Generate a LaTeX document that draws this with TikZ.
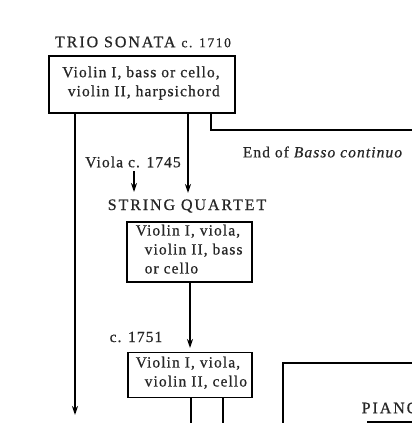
\documentclass[tikz,border=0pt]{standalone}
\usepackage{fontspec}
\setmainfont{Liberation Serif}
\newfontfamily\boxfont[LetterSpace=7,FakeBold=0.6]{Liberation Serif}
\newfontfamily\capfont[LetterSpace=12,FakeBold=0.6]{Liberation Serif}
\usetikzlibrary{arrows.meta}
\begin{document}
\begin{tikzpicture}[x=1pt,y=-1pt,
  line width=1.4pt,
  boxs/.style={draw, line width=1.3pt, inner sep=0pt, outer sep=0pt},
  txt/.style={inner sep=0pt, font=\boxfont\fontsize{15.5}{19}\selectfont, text=black!85},
  ttl/.style={inner sep=0pt, font=\capfont\fontsize{16}{18}\selectfont, text=black!85},
  arr/.style={-{Stealth[length=9pt,width=6pt]}, line width=1.5pt},
  ln/.style={line width=1.5pt}]
\useasboundingbox[fill=white] (0,0) rectangle (412,423);
% Trio sonata
\node[ttl] (ttrio) at (143,42) {TRIO SONATA {\fontsize{13.5}{14}\selectfont c. 1710}};
\node[boxs, minimum width=186pt, minimum height=57pt] (trio) at (142,84.5) {};
\node[txt, align=right] (trioT) at (141,83) {Violin I, bass or cello,\\violin II, harpsichord};
% left long line
\coordinate (l1) at (75,113);
\coordinate (l2) at (75,415);
\draw[arr] (l1) -- (l2);
% end of basso continuo
\coordinate (b1) at (211,113);
\coordinate (b2) at (211,130);
\coordinate (b3) at (413,130);
\draw[ln] (b1) -- (b2) -- (b3);
\node[txt] (ebc) at (323,152) {End of \textit{Basso continuo}};
% viola
\node[txt] (viola) at (133,162) {Viola c. 1745};
\coordinate (v2) at (134,192);
\draw[arr, line width=1.2pt] (viola.south -| v2) ++(0,3) -- (v2);
% string quartet
\coordinate (s1) at (188,113);
\coordinate (s2) at (188,193);
\draw[arr] (s1) -- (s2);
\node[ttl] (sqt) at (187,206) {STRING QUARTET};
\node[boxs, minimum width=125pt, minimum height=60pt] (sq) at (189.5,252) {};
\node[txt, align=left, anchor=north west] (sqT) at (135,224) {Violin I, viola,\\\hspace*{9pt}violin II, bass\\\hspace*{9pt}or cello};
% c. 1751
\coordinate (q1) at (190,282);
\coordinate (q2) at (190,348);
\draw[arr] (q1) -- (q2);
\node[txt] (c1751) at (136,337) {c. 1751};
\node[boxs, minimum width=124pt, minimum height=45pt] (q51) at (190,375) {};
\node[txt, align=left, anchor=north west] (q51T) at (135,356) {Violin I, viola,\\\hspace*{9pt}violin II, cello};
\coordinate (d1) at (191,397);
\coordinate (d2) at (191,424);
\coordinate (e1) at (223,397);
\coordinate (e2) at (223,424);
\draw[ln] (d1) -- (d2);
\draw[ln] (e1) -- (e2);
% piano
\coordinate (p1) at (283,424);
\coordinate (p2) at (283,363);
\coordinate (p3) at (413,363);
\draw[ln] (p1) -- (p2) -- (p3);
\node[ttl, anchor=west] (piano) at (361,408) {PIANO};
\coordinate (u1) at (367,422);
\coordinate (u2) at (413,422);
\draw[ln] (u1) -- (u2);
\end{tikzpicture}
\end{document}
